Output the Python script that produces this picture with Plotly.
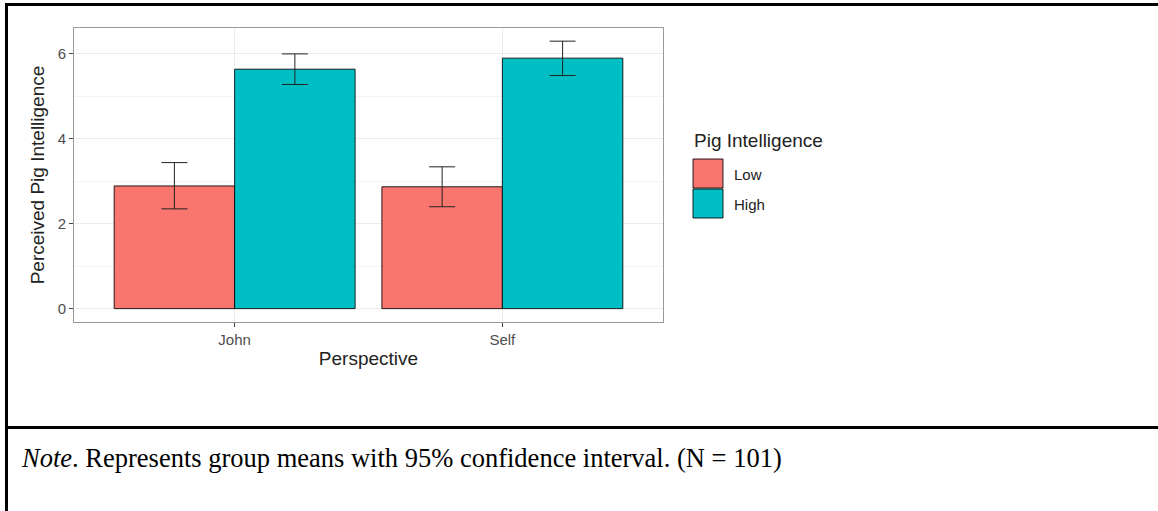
import plotly.graph_objects as go

# Group means and 95% CI bounds
perspectives = ["John", "Self"]
groups = ["Low", "High"]
group_colors = ["#F8766D", "#00BFC4"]
means = {
    "Low": [2.89, 2.87],
    "High": [5.64, 5.90],
}
ci_upper = {
    "Low": [3.44, 3.34],
    "High": [6.00, 6.30],
}
ci_lower = {
    "Low": [2.35, 2.40],
    "High": [5.28, 5.49],
}

W, H = 1158, 511


def px_x(x):
    return x / W


def px_y(y):
    return 1 - y / H


fig = go.Figure()
for g, col in zip(groups, group_colors):
    m = means[g]
    fig.add_trace(go.Bar(
        name=g,
        x=perspectives,
        y=m,
        marker=dict(color=col, line=dict(color="rgba(0,0,0,0.85)", width=1)),
        error_y=dict(
            type="data",
            symmetric=False,
            array=[u - v for u, v in zip(ci_upper[g], m)],
            arrayminus=[v - l for v, l in zip(m, ci_lower[g])],
            color="#222222",
            thickness=1,
            width=13,
        ),
        showlegend=False,
    ))

font_sans = "Liberation Sans, Arial, sans-serif"

fig.update_layout(
    width=W,
    height=H,
    margin=dict(l=0, r=0, t=0, b=0),
    paper_bgcolor="white",
    plot_bgcolor="white",
    barmode="group",
    bargap=0.1,
    bargroupgap=0,
    font=dict(family=font_sans, color="#4D4D4D"),
    xaxis=dict(
        domain=[px_x(74), px_x(663)],
        type="category",
        range=[-0.6, 1.6],
        showgrid=True,
        gridcolor="#EBEBEB",
        gridwidth=1,
        showline=True,
        mirror=True,
        linecolor="#999999",
        linewidth=1,
        ticks="outside",
        ticklen=4,
        tickcolor="#444444",
        tickfont=dict(size=15, color="#4D4D4D"),
        title=dict(text="Perspective", font=dict(size=19, color="#222222"), standoff=4),
        anchor="y",
    ),
    yaxis=dict(
        domain=[px_y(322), px_y(28)],
        range=[-0.315, 6.61],
        tickvals=[0, 2, 4, 6],
        showgrid=True,
        gridcolor="#EBEBEB",
        gridwidth=1,
        minor=dict(tickvals=[1, 3, 5], showgrid=True, gridcolor="#F3F3F3", gridwidth=1),
        zeroline=False,
        showline=True,
        mirror=True,
        linecolor="#999999",
        linewidth=1,
        ticks="outside",
        ticklen=4,
        tickcolor="#444444",
        tickfont=dict(size=15, color="#4D4D4D"),
        title=dict(text="Perceived Pig Intelligence", font=dict(size=19, color="#222222"), standoff=8),
        anchor="x",
    ),
)

# Legend drawn as keys and labels to the right of the panel
shapes = []
annotations = [dict(
    x=px_x(692), y=px_y(141), xref="paper", yref="paper",
    text="Pig Intelligence", showarrow=False, xanchor="left", yanchor="middle",
    font=dict(family=font_sans, size=19, color="#222222"),
)]
key_top = 159
key_h = 30
for i, (g, col) in enumerate(zip(groups, group_colors)):
    y0 = key_top + i * key_h
    shapes.append(dict(
        type="rect", xref="paper", yref="paper",
        x0=px_x(693), x1=px_x(723), y0=px_y(y0 + key_h - 1), y1=px_y(y0),
        fillcolor=col, line=dict(color="rgba(0,0,0,0.85)", width=1),
    ))
    annotations.append(dict(
        x=px_x(732), y=px_y(y0 + key_h / 2), xref="paper", yref="paper",
        text=g, showarrow=False, xanchor="left", yanchor="middle",
        font=dict(family=font_sans, size=15, color="#222222"),
    ))

# Frame lines around the figure and its note
frame = dict(color="black", width=3)
shapes += [
    dict(type="line", xref="paper", yref="paper", x0=px_x(5), x1=1, y0=px_y(4.5), y1=px_y(4.5), line=frame),
    dict(type="line", xref="paper", yref="paper", x0=px_x(6.5), x1=px_x(6.5), y0=0, y1=px_y(3), line=frame),
    dict(type="line", xref="paper", yref="paper", x0=px_x(5), x1=1, y0=px_y(427.5), y1=px_y(427.5), line=frame),
]

annotations.append(dict(
    x=px_x(19), y=px_y(458), xref="paper", yref="paper",
    text="<i>Note</i>. Represents group means with 95% confidence interval. (N = 101)",
    showarrow=False, xanchor="left", yanchor="middle",
    font=dict(family="Liberation Serif, Times New Roman, serif", size=26.5, color="black"),
))

fig.update_layout(shapes=shapes, annotations=annotations)

fig.write_html("out.html")
